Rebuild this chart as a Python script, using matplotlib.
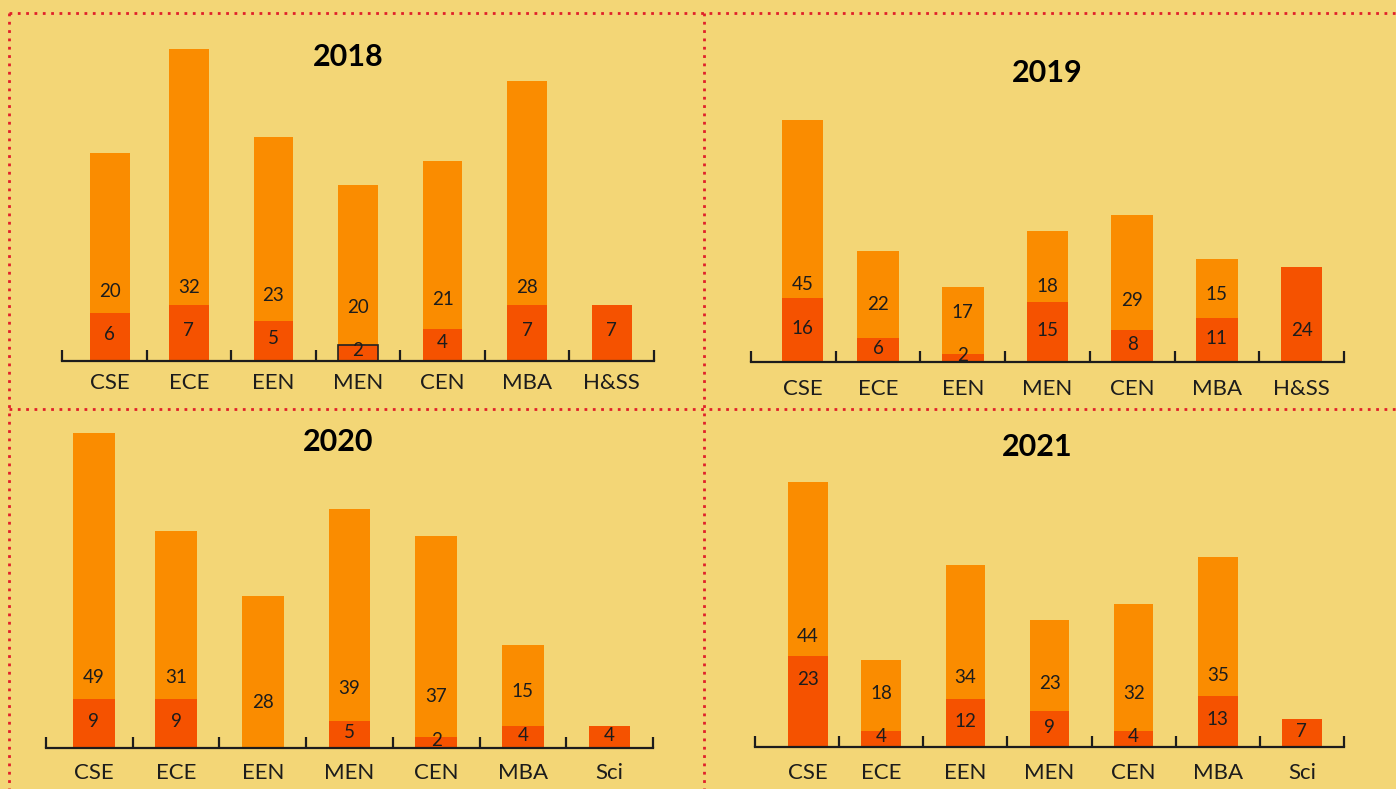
"""Department-wise stacked bars, 2018-2021"""
import matplotlib
matplotlib.use('Agg')
import matplotlib.pyplot as plt
from matplotlib.lines import Line2D
import numpy as np

plt.rcParams['font.family'] = ['Lato', 'DejaVu Sans']

W, H = 1396, 789
BG = '#F3D676'
C_TOP = '#FA8C00'
C_BOT = '#F55200'
TXT = '#1c1c1c'

# data
years = ['2018', '2019', '2020', '2021']
cats_a = ['CSE', 'ECE', 'EEN', 'MEN', 'CEN', 'MBA', 'H&SS']
cats_b = ['CSE', 'ECE', 'EEN', 'MEN', 'CEN', 'MBA', 'Sci']
bot_2018 = [6, 7, 5, 2, 4, 7, 7]
top_2018 = [20, 32, 23, 20, 21, 28, 0]
bot_2019 = [16, 6, 2, 15, 8, 11, 24]
top_2019 = [45, 22, 17, 18, 29, 15, 0]
bot_2020 = [9, 9, 0, 5, 2, 4, 4]
top_2020 = [49, 31, 28, 39, 37, 15, 0]
bot_2021 = [23, 4, 12, 9, 4, 13, 7]
top_2021 = [44, 18, 34, 23, 32, 35, 0]

panels = [
    # year, cats, bottom, top, (x0, x1, baseline, top px, px per unit), title xy, bar width,
    # nudge of first bar, label pad
    ('2018', cats_a, bot_2018, top_2018, (62, 654, 361, 30, 8.0), (348, 57), 0.47, 0.065, 9),
    ('2019', cats_a, bot_2019, top_2019, (751, 1344, 362, 100, 3.97), (1047, 73), 0.49, 0.11, 12.5),
    ('2020', cats_b, bot_2020, top_2020, (46, 653, 748, 420, 5.43), (338, 442), 0.48, 0.052, 10.5),
    ('2021', cats_b, bot_2021, top_2021, (755, 1344, 747, 460, 3.96), (1037, 447), 0.47, 0.13, 11.5),
]

# hand-moved labels in the original (offset in points)
label_shift = {('2021', 'CSE'): 14, ('2019', 'H&SS'): -13}

fig = plt.figure(figsize=(W / 100, H / 100), dpi=100)
fig.patch.set_facecolor(BG)

for year, cats, bot, top, (x0, x1, base, ytop, ppu), (tx, ty), bw, nudge, pad in panels:
    ax = fig.add_axes([x0 / W, 1 - base / H, (x1 - x0) / W, (base - ytop) / H])
    ax.set_facecolor('none')
    n = len(cats)
    x = np.arange(n, dtype=float)
    x[0] += nudge
    bot = np.array(bot); top = np.array(top)
    ax.bar(x, bot, bw, color=C_BOT, zorder=2)
    ax.bar(x, top, bw, bottom=bot, color=C_TOP, zorder=2)
    ax.set_xlim(-0.5, n - 0.5)
    ax.set_ylim(0, (base - ytop) / ppu)
    for s in ['top', 'left', 'right']:
        ax.spines[s].set_visible(False)
    ax.spines['bottom'].set_color(TXT)
    ax.spines['bottom'].set_linewidth(1.6)
    ax.spines['bottom'].set_zorder(3)
    ax.set_yticks([])
    ax.set_xticks(x)
    ax.set_xticklabels(cats, fontsize=16, color=TXT)
    ax.tick_params(axis='x', which='major', length=0, pad=pad)
    ax.set_xticks(np.arange(-0.5, n, 1.0), minor=True)
    ax.tick_params(axis='x', which='minor', direction='in', length=8, width=1.6, color=TXT)

    for i in range(n):
        dy = 1.5 + label_shift.get((year, cats[i]), 0)
        if bot[i] > 0:
            ax.annotate(str(bot[i]), xy=(x[i], bot[i] / 2), xytext=(0, dy), textcoords='offset points',
                        ha='center', va='center', fontsize=13.5, color=TXT, zorder=4)
        if top[i] > 0:
            ax.annotate(str(top[i]), xy=(x[i], bot[i] / 2), xytext=(0, dy + 31.5), textcoords='offset points',
                        ha='center', va='center', fontsize=13.5, color=TXT, zorder=4)

    if year == '2018':
        # outlined bottom segment on MEN
        j = cats.index('MEN')
        ax.bar(x[j], bot[j], bw, color='none', edgecolor='#222222', linewidth=1.2, zorder=3)

    fig.text(tx / W, 1 - ty / H, year, ha='center', va='center', fontsize=22, fontweight='bold', color='black')

# dotted red separators
red = '#E0202A'
kw = dict(color=red, linestyle=(0, (1, 2.0)), linewidth=2.0, transform=fig.transFigure)
fig.add_artist(Line2D([9 / W, 1], [1 - 13 / H, 1 - 13 / H], **kw))
fig.add_artist(Line2D([9 / W, 1], [1 - 409 / H, 1 - 409 / H], **kw))
fig.add_artist(Line2D([9 / W, 9 / W], [1 - 13 / H, 0], **kw))
fig.add_artist(Line2D([704 / W, 704 / W], [1 - 13 / H, 0], **kw))

fig.savefig('out.png', dpi=100, facecolor=BG)
plt.close()
